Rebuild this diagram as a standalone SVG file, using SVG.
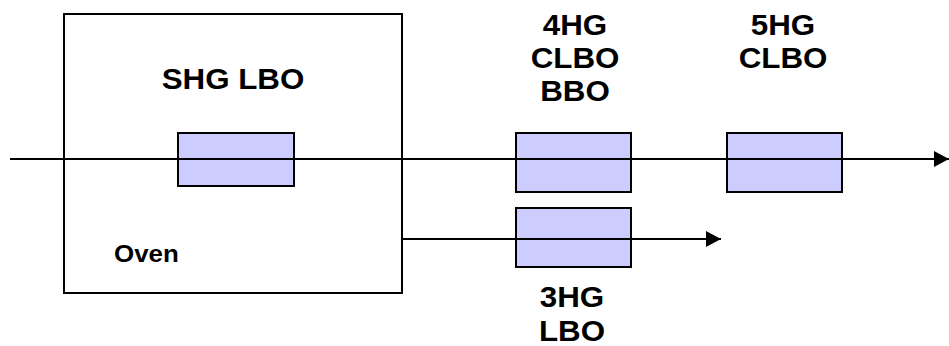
<svg xmlns="http://www.w3.org/2000/svg" width="949" height="346" viewBox="0 0 949 346">
<style>
.oven{fill:#ffffff;stroke:#000;stroke-width:2}
.xtal{fill:#ccccff;stroke:#000;stroke-width:2}
.beam{stroke:#000;stroke-width:2;fill:none}
.lbl{font-family:"Liberation Sans",Arial,sans-serif;font-weight:bold;font-size:29px;fill:#000;text-anchor:middle}
.small{font-size:24px;text-anchor:start}
</style>
<defs>
<marker id="ah" markerUnits="userSpaceOnUse" markerWidth="15" markerHeight="16" refX="15" refY="8" orient="auto">
<path d="M0,0 L15,8 L0,16 Z" fill="#000"/>
</marker>
</defs>
<rect width="949" height="346" fill="#ffffff"/>
<g id="oven">
<rect class="oven" x="64" y="14" width="338" height="279"/>
<text class="lbl" transform="translate(233,89) scale(1.08,1)">SHG LBO</text>
<text class="lbl small" transform="translate(114,262) scale(1.08,1)">Oven</text>
</g>
<g id="shg">
<rect class="xtal" x="178" y="133" width="116" height="53"/>
</g>
<g id="hg4">
<rect class="xtal" x="516" y="133" width="115" height="59"/>
<text class="lbl" transform="translate(575,35) scale(1.08,1)">4HG</text>
<text class="lbl" transform="translate(575,68) scale(1.08,1)">CLBO</text>
<text class="lbl" transform="translate(575,101) scale(1.08,1)">BBO</text>
</g>
<g id="hg5">
<rect class="xtal" x="727" y="133" width="115" height="59"/>
<text class="lbl" transform="translate(783,35) scale(1.08,1)">5HG</text>
<text class="lbl" transform="translate(783,68) scale(1.08,1)">CLBO</text>
</g>
<g id="hg3">
<rect class="xtal" x="516" y="208" width="115" height="59"/>
<text class="lbl" transform="translate(572,307) scale(1.08,1)">3HG</text>
<text class="lbl" transform="translate(572,341) scale(1.08,1)">LBO</text>
</g>
<g id="connectors">
<line class="beam" x1="10" y1="159" x2="949" y2="159" marker-end="url(#ah)"/>
<line class="beam" x1="402" y1="239" x2="721" y2="239" marker-end="url(#ah)"/>
</g>
</svg>
